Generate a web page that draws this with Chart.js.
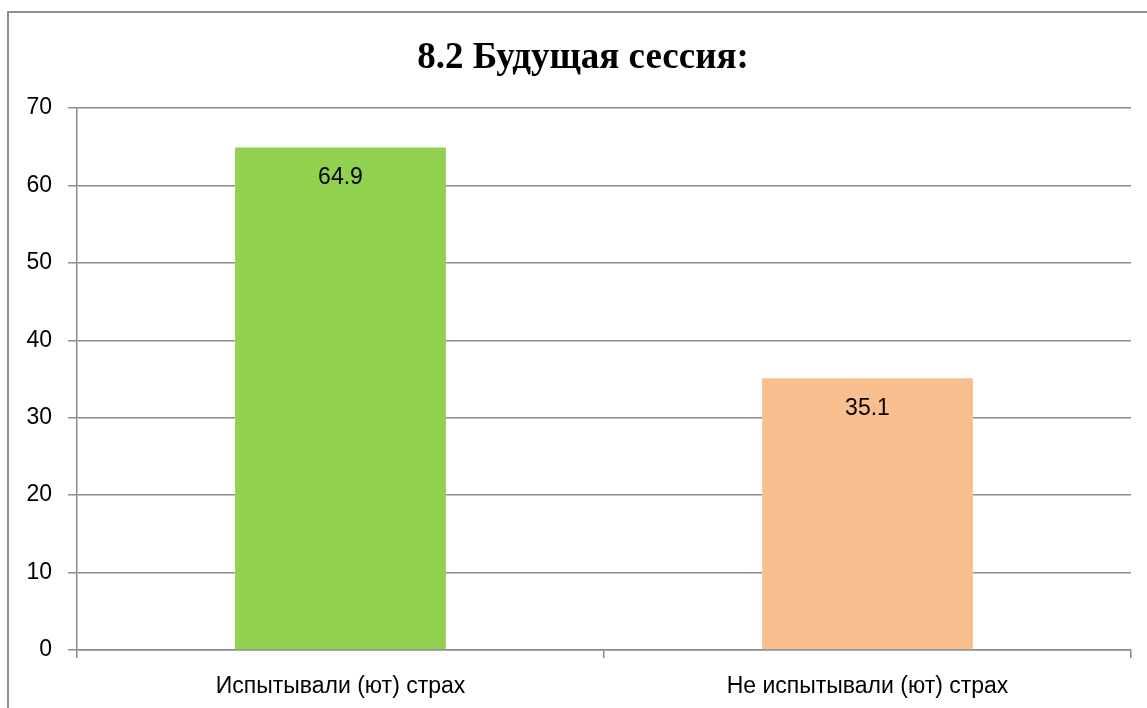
<!DOCTYPE html>
<html>
<head>
<meta charset="utf-8">
<script src="https://cdn.jsdelivr.net/npm/chart.js@4/dist/chart.umd.min.js"></script>
<style>
  body { margin: 0; background: #fff; overflow: hidden; }
  #frame { position: absolute; left: 7px; top: 11px; width: 1200px; height: 800px;
           border-left: 2px solid #8e8e8e; border-top: 2px solid #8e8e8e; }
  canvas { position: absolute; left: 0; top: 0; }
</style>
</head>
<body>
<div id="frame"></div>
<canvas id="chart" width="1147" height="708"></canvas>
<script>
const chartTitle = '8.2 Будущая сессия:';
const categories = ['Испытывали (ют) страх', 'Не испытывали (ют) страх'];
const values = [64.9, 35.1];
const barColors = ['#92d050', '#f9bf8f'];
const yTicks = [0, 10, 20, 30, 40, 50, 60, 70];

const gridGray = '#8c8c8c';
const tickFont = { family: 'Liberation Sans', size: 23 };

// value text inside the bar, a bit under its top
const valueLabels = {
    id: 'valueLabels',
    afterDatasetsDraw(chart) {
        const c = chart.ctx;
        const meta = chart.getDatasetMeta(0);
        c.save();
        c.font = '23px "Liberation Sans"';
        c.fillStyle = '#000';
        c.textAlign = 'center';
        c.textBaseline = 'middle';
        meta.data.forEach((bar, i) => {
            c.fillText(values[i].toFixed(1), bar.x, bar.y + 30);
        });
        c.restore();
    }
};

// title centred on the chart frame, not on the canvas
const frameTitle = {
    id: 'frameTitle',
    afterDraw(chart) {
        const c = chart.ctx;
        c.save();
        c.font = 'bold 37px "Liberation Serif"';
        c.fillStyle = '#000';
        c.textAlign = 'center';
        c.textBaseline = 'middle';
        c.fillText(chartTitle, 583, 58);
        c.restore();
    }
};

new Chart(document.getElementById('chart'), {
    type: 'bar',
    data: {
        labels: categories,
        datasets: [{
            data: values,
            backgroundColor: barColors,
            categoryPercentage: 1,
            barPercentage: 0.4
        }]
    },
    options: {
        responsive: false,
        animation: false,
        layout: { padding: { left: 0, right: 16, top: 108, bottom: 0 } },
        plugins: {
            legend: { display: false },
            tooltip: { enabled: false },
            title: { display: false }
        },
        scales: {
            x: {
                grid: { drawOnChartArea: false, drawTicks: true, tickLength: 8, color: gridGray, lineWidth: 1.5 },
                border: { display: true, color: gridGray, width: 1.5 },
                ticks: { color: '#000', font: tickFont, padding: 15 },
                afterFit: s => { s.height = 58; }
            },
            y: {
                min: 0,
                max: 70,
                afterBuildTicks: s => { s.ticks = yTicks.map(v => ({ value: v })); },
                grid: { color: gridGray, lineWidth: 1.5, tickLength: 9 },
                border: { display: true, color: gridGray, width: 1.5 },
                ticks: { color: '#000', font: tickFont, padding: 16 },
                afterFit: s => { s.width = 77; }
            }
        }
    },
    plugins: [valueLabels, frameTitle]
});
</script>
</body>
</html>
